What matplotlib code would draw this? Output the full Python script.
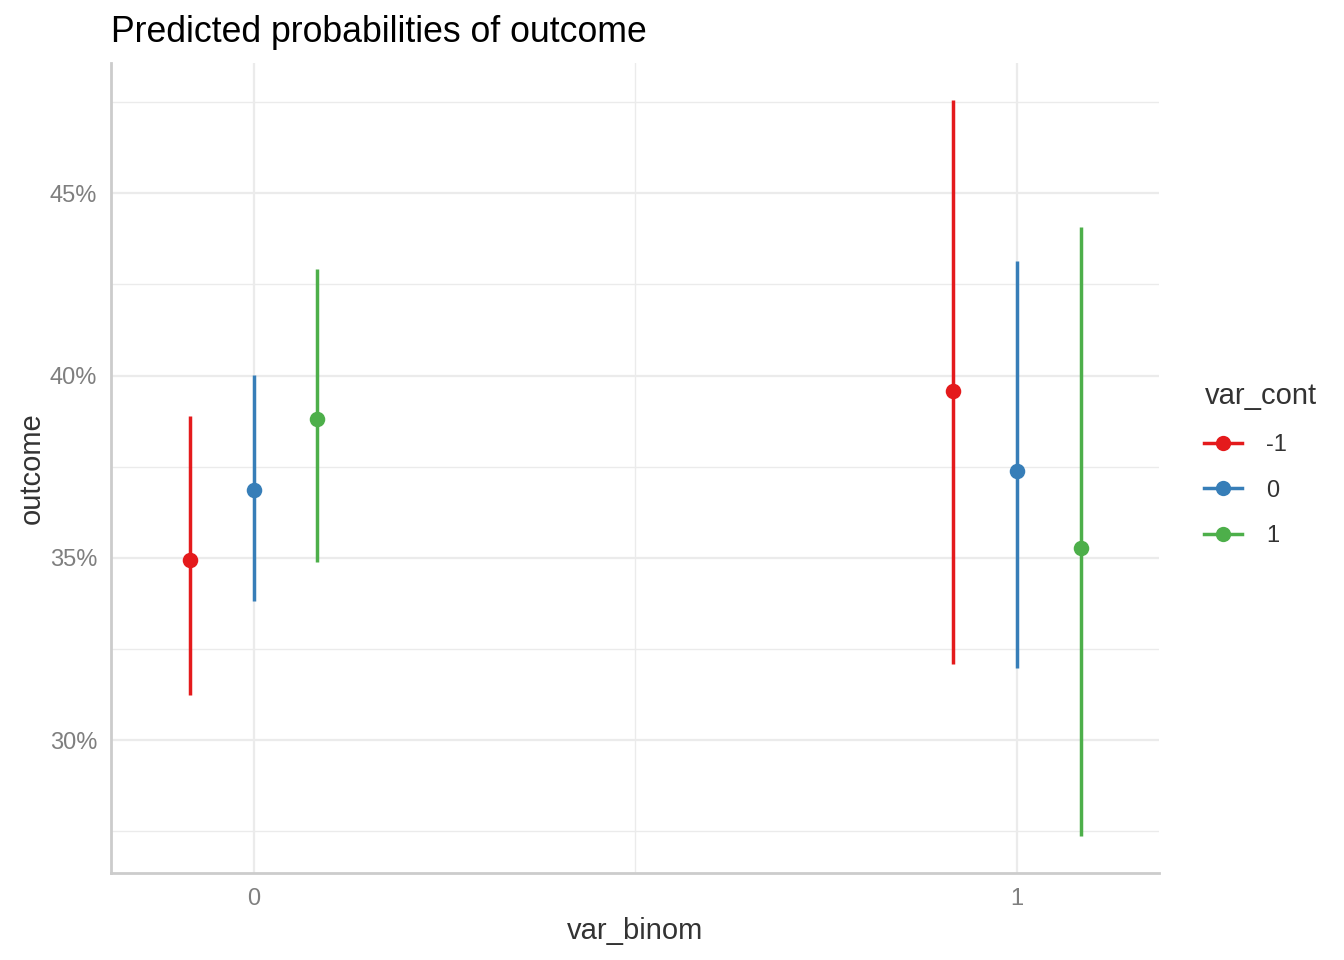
import numpy as np
import matplotlib.pyplot as plt
from matplotlib.lines import Line2D
from matplotlib.ticker import FixedLocator, FuncFormatter

plt.rcParams['font.family'] = ['Liberation Sans', 'DejaVu Sans']

# data (percent)
var_binom = [0, 1]
var_cont = ["-1", "0", "1"]
colors = ["#E41A1C", "#377EB8", "#4DAF4A"]
pred = [[34.95, 39.58], [36.86, 37.39], [38.81, 35.27]]
low = [[31.24, 32.09], [33.82, 31.98], [34.89, 27.38]]
high = [[38.89, 47.56], [40.02, 43.15], [42.93, 44.08]]

dodge = 0.0833

fig = plt.figure(figsize=(13.44, 9.6), dpi=100)
ax = fig.add_axes([111 / 1344, 1 - 873 / 960, (1159 - 111) / 1344, (873 - 63) / 960])

handles = []
for i, (lab, c) in enumerate(zip(var_cont, colors)):
    xs = np.array(var_binom) + (i - 1) * dodge
    ax.vlines(xs, low[i], high[i], color=c, linewidth=2.5, zorder=3)
    ax.scatter(xs, pred[i], color=c, s=125, zorder=4, linewidths=0)
    handles.append(Line2D([0], [0], color=c, linewidth=2.5, marker='o',
                          markersize=11, markeredgewidth=0, label=lab))

ax.set_xlim(-0.187, 1.186)
ax.set_ylim(26.36, 48.57)

ax.xaxis.set_major_locator(FixedLocator([0, 1]))
ax.xaxis.set_minor_locator(FixedLocator([0.5]))
ax.yaxis.set_major_locator(FixedLocator([30, 35, 40, 45]))
ax.yaxis.set_minor_locator(FixedLocator([27.5, 32.5, 37.5, 42.5, 47.5]))
ax.yaxis.set_major_formatter(FuncFormatter(lambda v, p: f"{v:.0f}%"))

ax.grid(which='major', color='#EBEBEB', linewidth=1.6, zorder=0)
ax.grid(which='minor', color='#EBEBEB', linewidth=1.0, zorder=0)
ax.set_axisbelow(True)

for s in ['top', 'right']:
    ax.spines[s].set_visible(False)
for s in ['left', 'bottom']:
    ax.spines[s].set_color('#CCCCCC')
    ax.spines[s].set_linewidth(2.0)

ax.tick_params(which='both', length=0, labelsize=17, labelcolor='#7F7F7F')
ax.tick_params(axis='y', pad=10)
ax.tick_params(axis='x', pad=11)
ax.set_xlabel("var_binom", fontsize=21, color='#333333', labelpad=5)
ax.set_ylabel("outcome", fontsize=21, color='#333333', labelpad=3)
ax.set_title("Predicted probabilities of outcome", fontsize=25.7, loc='left', x=0.0, pad=15)

leg = fig.legend(handles=handles, title="var_cont", loc='upper left',
                 bbox_to_anchor=(1195 / 1344, 1 - 373 / 960), frameon=False,
                 fontsize=17, title_fontsize=21, handlelength=1.6,
                 labelspacing=1.0, borderaxespad=0, handletextpad=1.0)
leg._legend_box.align = "left"
for t in leg.get_texts():
    t.set_color('#333333')
leg.get_title().set_color('#333333')

fig.savefig("out.png", dpi=100)
